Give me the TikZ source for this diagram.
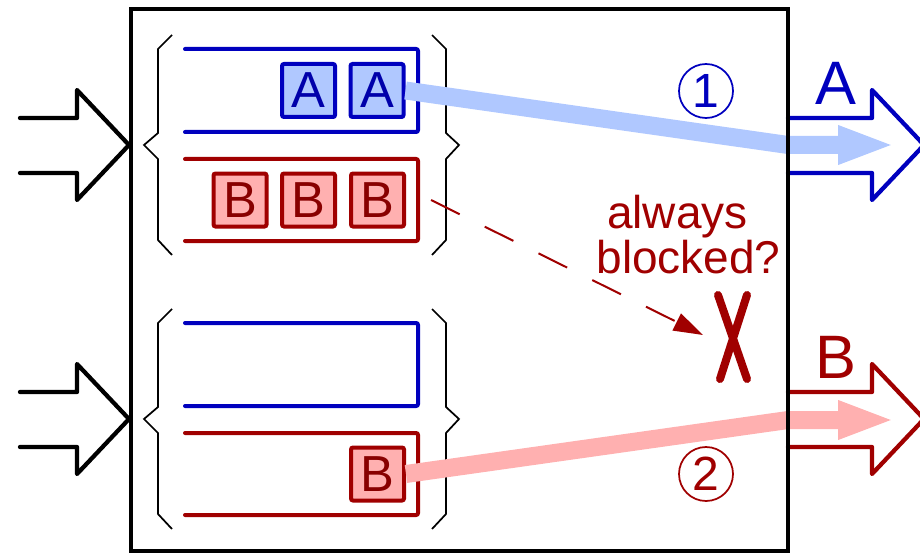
\documentclass[tikz,border=0pt]{standalone}
\usepackage{fontspec}
\setmainfont{Liberation Sans}
\usetikzlibrary{arrows.meta}

\definecolor{qblue}{RGB}{0,0,190}
\definecolor{qbluefill}{RGB}{176,200,255}
\definecolor{qbluetext}{RGB}{0,0,170}
\definecolor{qred}{RGB}{160,0,0}
\definecolor{qredfill}{RGB}{255,176,176}
\definecolor{qredtext}{RGB}{136,0,0}

\tikzset{
  port/.style={line width=3.2pt, line cap=round, line join=round},
  brace/.style={line width=1.3pt, black, line join=miter},
  queue/.style={line width=3pt, line cap=round, rounded corners=1.5pt},
  pkt/.style={draw, line width=3pt, minimum size=39.75pt, inner sep=0pt,
              rounded corners=1.5pt, font=\fontsize{38}{38}\selectfont},
  pktA/.style={pkt, draw=qblue, fill=qbluefill, text=qbluetext},
  pktB/.style={pkt, draw=qred, fill=qredfill, text=qredtext},
  flow/.style={line width=13.5pt, line join=round,
               -{Triangle[length=42.75pt,width=26.25pt]}},
  portlabel/.style={anchor=base, inner sep=0pt, font=\fontsize{46}{46}\selectfont},
  stepnum/.style={circle, draw, line width=1.3pt, minimum size=40.5pt, inner sep=0pt,
                  font=\fontsize{36}{36}\selectfont},
  note/.style={anchor=base, inner sep=0pt, text=qred, font=\fontsize{34.5}{34.5}\selectfont},
}

\begin{document}
\begin{tikzpicture}[x=0.75pt, y=-0.75pt]
\useasboundingbox (0,0) rectangle (920,556);
\clip (0,0) rectangle (920,556);

% input ports
\draw[port] (20,118) -- (77,118) -- (77,90) -- (129,145) -- (77,200) -- (77,173) -- (20,173);
\draw[port] (20,392) -- (77,392) -- (77,364) -- (129,419) -- (77,474) -- (77,447) -- (20,447);

% braces around the two input buffers
\draw[brace] (172,35) -- (158,49) -- (158,133) -- (144,145) -- (158,159) -- (158,240) -- (172,255);
\draw[brace] (432,35) -- (446,49) -- (446,133) -- (459,145) -- (446,159) -- (446,240) -- (432,255);
\draw[brace] (172,309) -- (158,323) -- (158,407) -- (144,419) -- (158,433) -- (158,514) -- (172,529);
\draw[brace] (432,309) -- (446,323) -- (446,407) -- (459,419) -- (446,433) -- (446,514) -- (432,529);

% virtual output queues
\draw[queue, qblue] (185,49) -- (418,49) -- (418,132) -- (185,132);
\draw[queue, qred]  (185,159) -- (418,159) -- (418,241) -- (185,241);
\draw[queue, qblue] (185,323) -- (418,323) -- (418,406) -- (185,406);
\draw[queue, qred]  (185,433) -- (418,433) -- (418,515) -- (185,515);

% packets
\node[pktA] (a1) at (308.5,90.5) {A};
\node[pktA] (a2) at (377,90.5) {A};
\node[pktB] (b1) at (240,200) {B};
\node[pktB] (b2) at (308.5,200) {B};
\node[pktB] (b3) at (377.5,200) {B};
\node[pktB] (b4) at (377.5,474) {B};

% output ports
\draw[port, qblue] (788,118) -- (872,118) -- (872,90) -- (924,145) -- (872,200) -- (872,173) -- (788,173);
\draw[port, qred]  (788,392) -- (872,392) -- (872,364) -- (924,419) -- (872,474) -- (872,447) -- (788,447);
\node[portlabel, text=qblue] (la) at (836,105) {A};
\node[portlabel, text=qred]  (lb) at (836,378) {B};

% packet flows through the switch
\coordinate (outA) at (895,145);
\coordinate (outB) at (895,420);
\draw[flow, qbluefill] (a2.east) -- (788,145) -- (outA);
\draw[flow, qredfill]  (b4.east) -- (788,420) -- (outB);

\node[stepnum, draw=qblue, text=qblue] (s1) at (706,91) {1};
\node[stepnum, draw=qred, text=qred]   (s2) at (706,474) {2};

% blocked request
\coordinate (blk) at (703,335);
\draw[qred, line width=1.5pt, dash pattern=on 24pt off 21pt,
      -{Triangle[length=22pt,width=14pt]}] ([xshift=18.75pt]b3.east) -- (blk);
\draw[qred, line width=6pt, line cap=round] (718,295) -- (747,379) (747,295) -- (720,379);
\node[note] (n1) at (677.5,228) {always};
\node[note] (n2) at (688.5,273) {blocked?};

% switch fabric
\node[draw, line width=3.4pt, minimum width=492.75pt, minimum height=406.5pt, inner sep=0pt]
  (sw) at (459.5,280) {};
\end{tikzpicture}
\end{document}
